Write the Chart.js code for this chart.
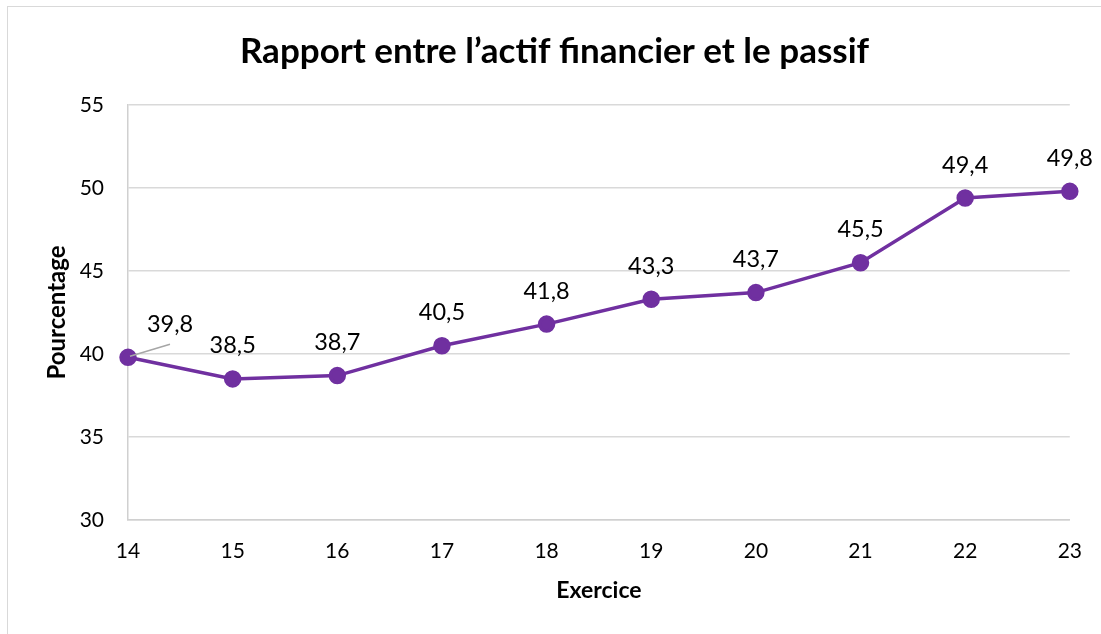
<!DOCTYPE html>
<html lang="fr">
  <head>
    <meta charset="UTF-8" />
    <title>Rapport entre l'actif financier et le passif</title>
    <script src="https://cdn.jsdelivr.net/npm/chart.js"></script>
    <style>
      html, body {
        margin: 0;
        padding: 0;
        background: #ffffff;
        overflow: hidden;
      }
      .frame {
        position: absolute;
        left: 7px;
        top: 6px;
        width: 1200px;
        height: 700px;
        border: 1.5px solid #d9d9d9;
        box-sizing: border-box;
      }
      .chart-box {
        position: absolute;
        left: 0;
        top: 0;
        width: 1101px;
        height: 634px;
      }
    </style>
  </head>
  <body>
    <div class="frame"></div>
    <div class="chart-box">
      <canvas id="ratioChart" width="1101" height="634"></canvas>
    </div>

    <script>
      const years = ["14", "15", "16", "17", "18", "19", "20", "21", "22", "23"];
      const ratioValues = [39.8, 38.5, 38.7, 40.5, 41.8, 43.3, 43.7, 45.5, 49.4, 49.8];
      const yTicks = [30, 35, 40, 45, 50, 55];

      const purple = "#7030A0";
      const fontFamily = "Lato, 'Open Sans', sans-serif";

      // data labels drawn above each point, decimal comma like the original
      const labelPlugin = {
        id: "pointLabels",
        afterDatasetsDraw(chart) {
          const ctx = chart.ctx;
          const meta = chart.getDatasetMeta(0);
          ctx.save();
          ctx.font = "23.5px " + fontFamily;
          ctx.fillStyle = "#000000";
          ctx.textAlign = "center";
          ctx.textBaseline = "middle";
          meta.data.forEach((pt, i) => {
            const txt = String(ratioValues[i]).replace(".", ",");
            let x = pt.x;
            let y = pt.y - 33;
            if (i === 0) {
              // first label pushed right, with a leader line
              x = pt.x + 42;
              ctx.strokeStyle = "#a6a6a6";
              ctx.lineWidth = 1.5;
              ctx.beginPath();
              ctx.moveTo(pt.x + 2, pt.y - 1);
              ctx.lineTo(pt.x + 42, pt.y - 13);
              ctx.stroke();
            }
            ctx.fillText(txt, x, y);
          });
          ctx.restore();
        }
      };

      new Chart(document.getElementById("ratioChart"), {
        type: "line",
        data: {
          labels: years,
          datasets: [{
            data: ratioValues,
            borderColor: purple,
            backgroundColor: purple,
            borderWidth: 3.5,
            pointRadius: 7,
            pointHoverRadius: 7,
            pointBackgroundColor: purple,
            pointBorderColor: purple,
            tension: 0,
            fill: false
          }]
        },
        options: {
          responsive: false,
          animation: false,
          layout: {
            padding: { left: 39, right: 31, top: 18, bottom: 30 }
          },
          plugins: {
            legend: { display: false },
            tooltip: { enabled: false },
            title: {
              display: true,
              text: "Rapport entre l’actif financier et le passif",
              color: "#000000",
              font: { family: fontFamily, size: 35, weight: "bold" },
              padding: { top: 13, bottom: 32 }
            }
          },
          scales: {
            x: {
              offset: false,
              afterFit(axis) { axis.height = 84; },
              grid: { display: false, drawTicks: false },
              border: { display: true, color: "#d0d0d0", width: 1.5 },
              ticks: {
                color: "#000000",
                font: { family: fontFamily, size: 21 },
                padding: 19
              },
              title: {
                display: true,
                text: "Exercice",
                color: "#000000",
                font: { family: fontFamily, size: 23, weight: "bold" },
                padding: { top: 0, bottom: 0 }
              }
            },
            y: {
              min: 30,
              max: 55,
              afterBuildTicks(axis) {
                axis.ticks = yTicks.map(v => ({ value: v }));
              },
              afterFit(axis) { axis.width = 89; },
              grid: { color: "#d9d9d9", lineWidth: 1.5, drawTicks: false },
              border: { display: true, color: "#d0d0d0", width: 1.5 },
              ticks: {
                color: "#000000",
                font: { family: fontFamily, size: 21 },
                padding: 24
              },
              title: {
                display: true,
                text: "Pourcentage",
                color: "#000000",
                font: { family: fontFamily, size: 24, weight: "bold" },
                padding: { top: 4, bottom: 4 }
              }
            }
          }
        },
        plugins: [labelPlugin]
      });
    </script>
  </body>
</html>
